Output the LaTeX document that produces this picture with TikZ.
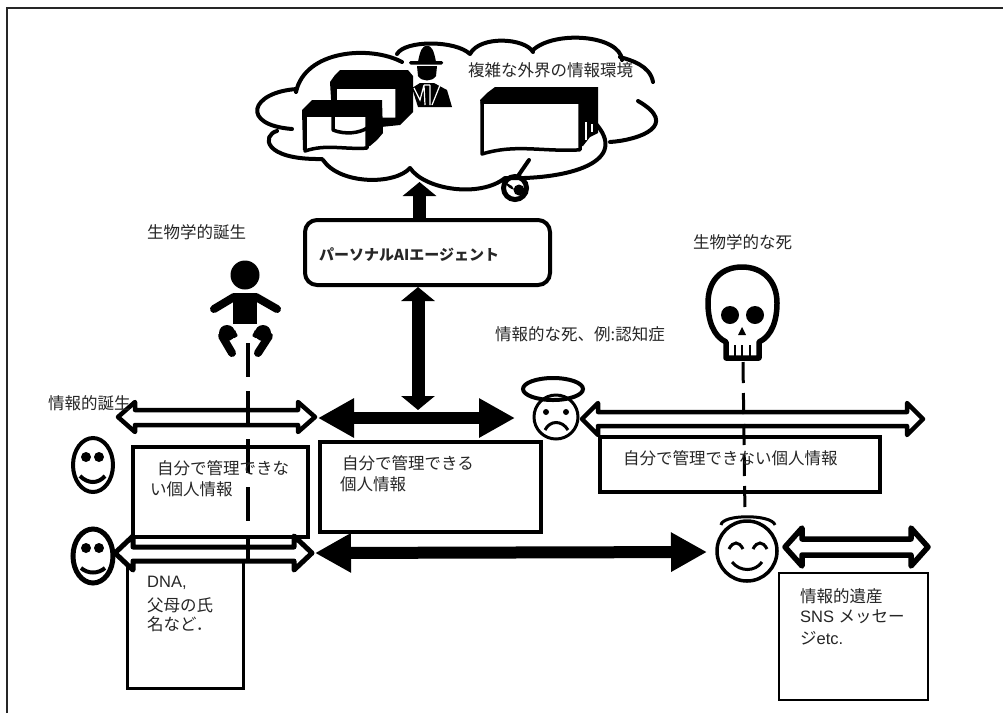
\documentclass[tikz,border=0pt]{standalone}
\usepackage{fontspec}
\setmainfont{Noto Sans CJK JP}
\newfontfamily\latf{Liberation Sans}
\usetikzlibrary{arrows.meta}
\definecolor{ink}{HTML}{262626}
\newcommand{\docpane}[4]{% x y w h : front sheet with a slightly wavy bottom
  \draw[stackline,fill=white] (#1,#2) -- ++(#3,0) -- ++(0,#4*0.92)
    .. controls +(-0.4*#3,0.04*#4) and +(0.35*#3,-0.2*#4) .. ++(-#3,0.08*#4) -- cycle;}
\newcommand{\hollowarrow}[8]{% x1 x2 y gapUp gapDown headHalf headLen lw
  \draw[line width=#8,fill=white,line join=round]
    (#1,#3) -- (#1+#7,#3-#6) -- (#1+#7,#3-#4) -- (#2-#7,#3-#4) -- (#2-#7,#3-#6) -- (#2,#3)
    -- (#2-#7,#3+#6) -- (#2-#7,#3+#5) -- (#1+#7,#3+#5) -- (#1+#7,#3+#6) -- cycle;}
\tikzset{
  x=1pt,y=-1pt,
  txt/.style={anchor=west,inner sep=0pt,text=ink,font=\fontsize{16.5}{20}\selectfont},
  bx/.style={draw,fill=white,inner sep=0pt,line width=#1},
  bx/.default=4pt,
  stackline/.style={line width=3.5pt,line join=round},
  cloudline/.style={line width=4pt,line cap=round},
  bigarrow/.style={line width=13pt,-{Triangle[length=14pt,width=33pt]}},
  bigboth/.style={line width=13pt,{Triangle[length=14pt,width=33pt]}-{Triangle[length=14pt,width=33pt]}},
  hugeboth/.style={line width=12pt,{Triangle[length=36pt,width=37pt]}-{Triangle[length=36pt,width=37pt]}},
  bdash/.style={line width=4pt,dash pattern=on 34pt off 14pt},
  sdash/.style={line width=3pt,dash pattern=on 21pt off 10pt},
}
\begin{document}
\begin{tikzpicture}
\useasboundingbox (0,0) rectangle (1003,713);
\fill[white] (0,0) rectangle (1003,713);
% frame
\draw[line width=2pt,black!85] (7,713) -- (7,8) -- (1003,8);

% cloud
\draw[cloudline]
  (402,62) .. controls (370,45) and (305,50) .. (296,92)
  (297,89) .. controls (250,92) and (240,125) .. (292,129)
  (277,131) .. controls (262,135) and (262,160) .. (322,159)
  (323,160) .. controls (340,185) and (395,185) .. (410,168)
  (410,168) .. controls (425,190) and (480,198) .. (505,178)
  (505,178) .. controls (560,180) and (630,165) .. (597,125)
  (610,142) .. controls (640,140) and (680,125) .. (638,101)
  (653,82) .. controls (650,65) and (630,60) .. (620,57)
  (622,60) .. controls (620,35) and (555,30) .. (533,50)
  (533,52) .. controls (525,38) and (480,35) .. (470,54)
  (470,54) .. controls (455,40) and (405,40) .. (397,54);

% spy
\fill (418,62) .. controls (420,50) and (423,45) .. (427,46) .. controls (431,45) and (434,50) .. (436,62) -- cycle;
\fill[rounded corners=1.5pt] (409,61) rectangle (443,64.5);
\fill (417,66) -- (437,66) -- (436,76) .. controls (432,82) and (422,82) .. (418,76) -- cycle;
\fill (412,88) -- (420,83) -- (434,83) -- (447,90) -- (452,107) -- (418,107) -- cycle;
\draw[white,line width=1.2pt] (414,88) -- (420,100) -- (424,85) (440,85) -- (432,105) (424,85) -- (425,105) (430,85) -- (430,105) (424,85) -- (430,85);

% left document stacks
\fill (340,70) -- (408,70) -- (413,76) -- (413,112) -- (407,118) -- (400,125) -- (333,132) -- (330,82) -- (335,75) -- cycle;
\docpane{335}{87}{62}{35}
\fill (312,100) -- (382,100) -- (383,133) -- (377,140) -- (370,146) -- (303,150) -- (302,110) -- (307,105) -- cycle;
\docpane{305}{115}{62}{36}
\draw[stackline] (333,114) -- (333,130) .. controls (345,135) and (360,133) .. (367,128);

% right document stack
\fill (495,87) -- (598,87) -- (598,133) -- (590,137) -- (583,146) -- (490,150) -- (480,100) -- (487,93) -- cycle;
\draw[white,line width=1.5pt] (592,124) -- (592,132) (586,122) -- (586,140);
\docpane{482}{102}{98}{52}

% lock
\draw[line width=4pt,line cap=round] (518,176) -- (529,160);
\draw[line width=5pt] (515,188) circle (11.5pt);
\fill (519,190) circle (5.5pt);
\fill (505,182) arc[start angle=200,end angle=260,radius=12pt] -- (512,186) -- cycle;

% boxes
\node[bx,minimum width=175pt,minimum height=90pt] (boxA) at (220.5,492) {};
\node[bx,minimum width=221pt,minimum height=90pt] (boxB) at (430.5,487) {};
\node[bx,minimum width=280pt,minimum height=55pt] (boxC) at (740,464.5) {};
\node[bx=3pt,minimum width=116pt,minimum height=127pt] (boxD) at (185,624.5) {};
\node[bx=2.6pt,minimum width=149pt,minimum height=127pt] (boxE) at (853.5,636.5) {};
\node[bx,rounded corners=12pt,minimum width=245pt,minimum height=65pt] (agent) at (427.5,252.5) {};

% solid arrows
\coordinate (cloudfoot) at (419.5,182);
\coordinate (hubtop) at (418,410);
\coordinate (hubL) at (318,418);
\coordinate (hubR) at (515,418);
\coordinate (lowL) at (315,553);
\coordinate (lowR) at (707,552);
\draw[bigarrow] (agent.north -| cloudfoot) -- (cloudfoot);
\draw[bigboth] (agent.south -| hubtop) -- (hubtop);
\draw[hugeboth] (hubL) -- (hubR);
\draw[hugeboth] (lowL) -- (lowR);

% hollow arrows
\hollowarrow{118}{315}{417}{7}{8}{15}{17}{4.5pt}
\hollowarrow{115}{312}{553}{6}{8}{17}{18}{5pt}
\hollowarrow{582}{923}{419}{7}{7}{16}{16}{4.5pt}
\hollowarrow{785}{928}{547}{8}{8}{19}{17}{5.5pt}

% smileys
\draw[line width=4pt] (93,465) ellipse[x radius=20pt,y radius=27pt];
\fill (86,457) circle (5pt) (99,457) circle (5pt);
\draw[line width=4pt] (80,476) .. controls (88,484) and (98,484) .. (105,476);
\draw[line width=5pt] (93,556) ellipse[x radius=20pt,y radius=27pt];
\fill (86,548) circle (5pt) (99,548) circle (5pt);
\draw[line width=4pt] (81,568) .. controls (88,574) and (98,574) .. (105,568);

% baby
\fill (245,275) circle (14.5pt);
\fill (233,293) -- (257,293) -- (257,324) -- (233,324) -- cycle;
\draw[line width=8pt,line cap=round] (234,297) -- (214,309) (256,297) -- (277,309);
\draw[line width=8pt,line cap=round,line join=round] (234,334) -- (222,336) -- (232,353);
\draw[line width=8pt,line cap=round,line join=round] (256,334) -- (269,336) -- (258,353);
\fill (227,333) circle (8pt) (263,333) circle (8pt);
\fill[white] (234,324) -- (256,324) -- (254,332) -- (250,339) -- (240,339) -- (236,332) -- cycle;

% skull
\draw[line width=5.5pt,line join=round,fill=white]
  (726,358) -- (726,342) .. controls (713,336) and (708,320) .. (708,303)
  .. controls (708,280) and (722,267) .. (742,267)
  .. controls (762,267) and (777,280) .. (777,303)
  .. controls (777,320) and (772,336) .. (759,342) -- (759,358) -- cycle;
\fill (730,315) circle (9pt) (755,315) circle (9pt);
\fill (742,327) -- (746,335) -- (738,335) -- cycle;
\draw[line width=2pt] (735,345) -- (735,357) (742,345) -- (742,357) (750,345) -- (750,357);

% sad angel
\draw[line width=3pt,fill=white] (556,417) circle (22pt);
\draw[line width=4pt] (553,389) ellipse[x radius=30pt,y radius=11pt];
\fill (546,412) circle (3pt) (566,412) circle (3pt);
\draw[line width=3pt] (545,430) .. controls (550,420) and (562,420) .. (568,430);

% happy angel
\draw[line width=3.5pt] (747,551) circle (30pt);
\draw[line width=3pt] (721,525) .. controls (722,514) and (772,514) .. (775,525);
\draw[line width=3pt] (729,549) .. controls (733,541) and (739,541) .. (743,549);
\draw[line width=3pt] (753,549) .. controls (757,541) and (763,541) .. (767,549);
\draw[line width=3pt] (732,562) .. controls (740,572) and (755,572) .. (762,562);

% dashed verticals
\coordinate (babyfoot) at (248,343);
\coordinate (dashA) at (248,562);
\coordinate (skullfoot) at (743,362);
\coordinate (dashB) at (745,516);
\draw[bdash] (babyfoot) -- (dashA);
\draw[sdash] (skullfoot) -- (dashB);

% labels
\node[txt] (t1) at (468,70) {複雑な外界の情報環境};
\node[txt] (t2) at (147,232) {生物学的誕生};
\node[txt] (t3) at (693,242) {生物学的な死};
\node[txt] (t4) at (495,334) {情報的な死、例:認知症};
\node[txt] (t5) at (48,403) {情報的誕生};
\node[txt,font=\fontsize{15}{18}\selectfont\bfseries] (t6) at (319,255) {パーソナルAIエージェント};
\node[txt] (t7) at (157,468) {自分で管理できな};
\node[txt] (t8) at (150,489) {い個人情報};
\node[txt] (t9) at (342,463) {自分で管理できる};
\node[txt] (t10) at (340,484) {個人情報};
\node[txt] (t11) at (623,458) {自分で管理できない個人情報};
\node[txt] (t12) at (147,583) {\latf DNA,};
\node[txt] (t13) at (147,605) {父母の氏};
\node[txt] (t14) at (147,624) {名など．};
\node[txt] (t15) at (800,596) {情報的遺産};
\node[txt] (t16) at (800,617) {\latf SNS\ \rmfamily メッセー};
\node[txt] (t17) at (800,638) {ジ\latf etc.};
\end{tikzpicture}
\end{document}
